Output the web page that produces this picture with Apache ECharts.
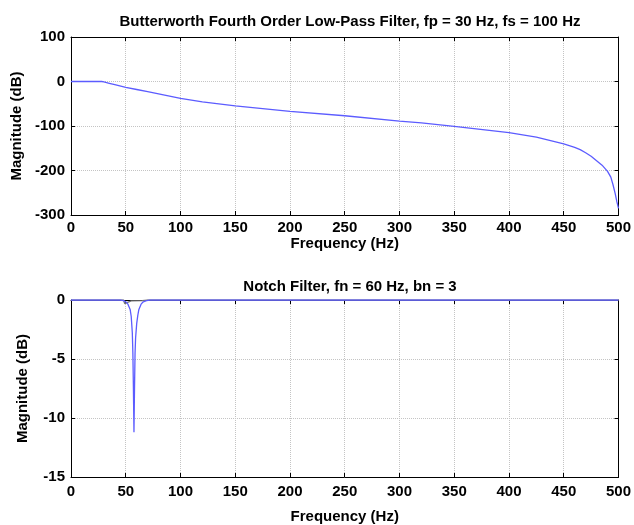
<!DOCTYPE html>
<html>
<head>
<meta charset="utf-8">
<script src="https://cdn.jsdelivr.net/npm/echarts@6/dist/echarts.min.js"></script>
<style>html,body{margin:0;padding:0;background:#fff;}#c{width:634px;height:525px;}</style>
</head>
<body>
<div id="c"></div>
<script>
// Butterworth low-pass magnitude (Hz, dB)
var lpFreq = [0, 10, 20, 28, 30, 35, 40, 50, 60, 70, 80, 90, 100, 120, 150, 200, 250, 300, 320, 350, 400, 425, 450, 460, 465, 470, 475, 480, 485, 490, 493, 495, 497, 498.5, 500];
var lpMag  = [0, 0, 0, 0, -1, -4, -7, -13, -18, -23, -28, -33, -38, -46, -55, -67, -77, -89, -93, -101, -115, -125, -140, -148, -153, -160, -168, -178, -188, -202, -215, -232, -252, -270, -285];
// Notch filter magnitude (Hz, dB)
var notchFreq = [0, 45, 48, 50, 52, 54, 55, 56, 56.5, 57, 57.5, 58, 58.5, 59, 60, 61, 62, 64, 66, 69, 72, 500];
var notchMag  = [0, 0, -0.05, -0.15, -0.35, -0.8, -1.4, -2.8, -4.5, -7.5, -11.2, -7.5, -4.5, -3.2, -2, -1.3, -0.8, -0.35, -0.15, -0.05, 0, 0];
// Reference (grey) curve in notch panel
var refFreq = [0, 48, 49, 50, 55, 65, 70, 500];
var refMag  = [0, 0, -0.3, -0.15, -0.08, -0.05, 0, 0];

function pairs(a, b) { return a.map(function (v, i) { return [v, b[i]]; }); }

var FONT = 'Liberation Sans, Arial, sans-serif';
var txt = { fontFamily: FONT, fontSize: 15, fontWeight: 'bold', color: '#000' };
var gridLine = { show: true, lineStyle: { color: '#c4c4c4', type: 'dotted', width: 1 } };

function xAx(gi, lm, gap) {
  return [{
    type: 'value', gridIndex: gi, min: 0, max: 500, interval: 50, position: 'bottom',
    axisLine: { show: true, onZero: false, lineStyle: { color: '#000', width: 1 } },
    axisTick: { show: true, inside: true, length: 4, lineStyle: { color: '#000' } },
    axisLabel: Object.assign({ margin: lm }, txt),
    splitLine: gridLine,
    name: 'Frequency (Hz)', nameLocation: 'middle', nameGap: gap, nameTextStyle: txt
  }, {
    type: 'value', gridIndex: gi, min: 0, max: 500, interval: 50, position: 'top',
    axisLine: { show: true, onZero: false, lineStyle: { color: '#000', width: 1 } },
    axisTick: { show: true, inside: true, length: 4, lineStyle: { color: '#000' } },
    axisLabel: { show: false }, splitLine: { show: false }
  }];
}
function yAx(gi, mn, mx, iv, gap) {
  return [{
    type: 'value', gridIndex: gi, min: mn, max: mx, interval: iv, position: 'left',
    axisLine: { show: true, onZero: false, lineStyle: { color: '#000', width: 1 } },
    axisTick: { show: true, inside: true, length: 4, lineStyle: { color: '#000' } },
    axisLabel: Object.assign({ margin: 6 }, txt),
    splitLine: gridLine,
    name: 'Magnitude (dB)', nameLocation: 'middle', nameGap: gap, nameRotate: 90, nameTextStyle: txt
  }, {
    type: 'value', gridIndex: gi, min: mn, max: mx, interval: iv, position: 'right',
    axisLine: { show: true, onZero: false, lineStyle: { color: '#000', width: 1 } },
    axisTick: { show: true, inside: true, length: 4, lineStyle: { color: '#000' } },
    axisLabel: { show: false }, splitLine: { show: false }
  }];
}

var chart = echarts.init(document.getElementById('c'), null, { renderer: 'canvas' });
chart.setOption({
  backgroundColor: '#fff',
  animation: false,
  title: [
    { text: 'Butterworth Fourth Order Low-Pass Filter, fp = 30 Hz, fs = 100 Hz', left: 345, top: 9, textAlign: 'center', textStyle: txt },
    { text: 'Notch Filter, fn = 60 Hz, bn = 3', left: 345, top: 274, textAlign: 'center', textStyle: txt }
  ],
  grid: [
    { left: 71, right: 14, top: 37, height: 178 },
    { left: 71, right: 14, top: 300, height: 178 }
  ],
  xAxis: xAx(0, 5, 21).concat(xAx(1, 7, 32)),
  yAxis: yAx(0, -300, 100, 100, 41).concat(yAx(1, -15, 0, 5, 41)),
  series: [
    { type: 'line', xAxisIndex: 0, yAxisIndex: 0, data: pairs(lpFreq, lpMag), showSymbol: false, smooth: false,
      lineStyle: { color: '#5c5cff', width: 1.3 } },
    { type: 'line', xAxisIndex: 2, yAxisIndex: 2, data: pairs(refFreq, refMag), showSymbol: false,
      lineStyle: { color: '#777', width: 1.3 } },
    { type: 'line', xAxisIndex: 2, yAxisIndex: 2, data: pairs(notchFreq, notchMag), showSymbol: false,
      lineStyle: { color: '#5c5cff', width: 1.3 } }
  ]
});
</script>
</body>
</html>
